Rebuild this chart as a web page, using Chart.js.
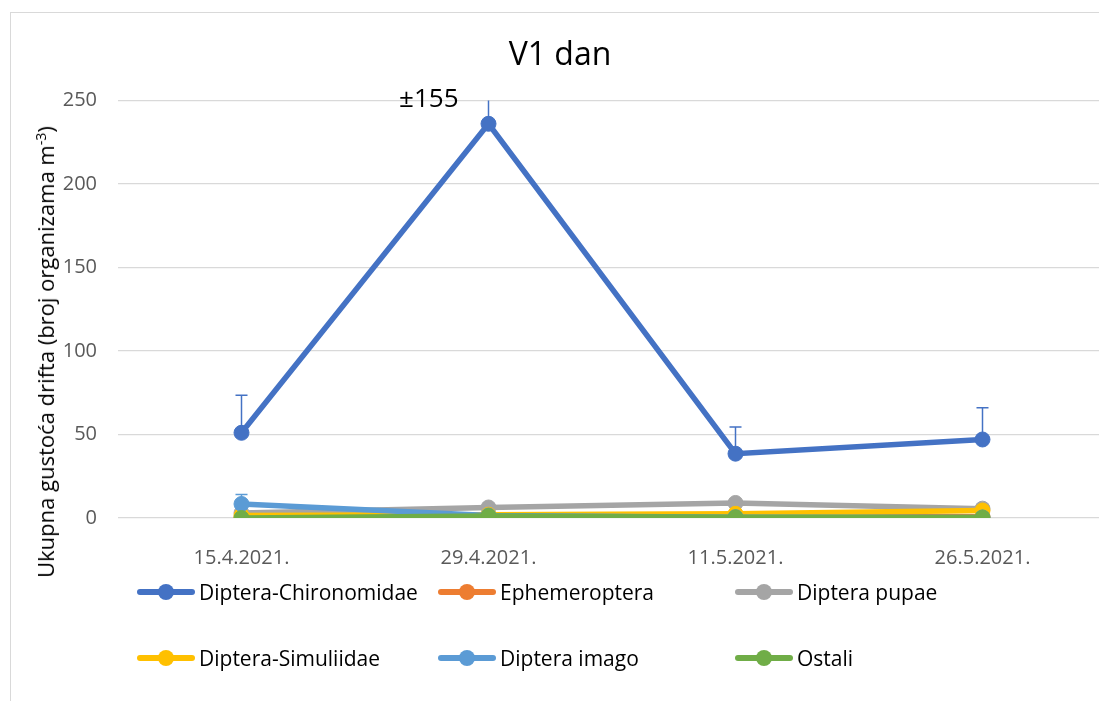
<!DOCTYPE html>
<html>
<head>
<meta charset="utf-8">
<script src="https://cdn.jsdelivr.net/npm/chart.js@4.4.1/dist/chart.umd.min.js"></script>
<style>
  body { margin: 0; overflow: hidden; background: #fff; font-family: 'Open Sans', sans-serif; }
  #frame { position: absolute; left: 10px; top: 12px; width: 1200px; height: 800px; border: 1px solid #d9d9d9; }
  #wrap { position: absolute; left: 0; top: 0; width: 1120px; height: 701px; }
  #ytitle { position: absolute; left: 45px; top: 352px; transform: translate(-50%, -50%) rotate(-90deg);
            white-space: nowrap; font-size: 22px; color: #000; }
  #ytitle sup { font-size: 14px; }
  .lg { position: absolute; height: 24px; transform: translateY(-50%); white-space: nowrap; font-size: 21px; color: #000; }
  .lg .ln { position: absolute; left: 0; top: 9px; width: 58px; height: 6px; border-radius: 3px; }
  .lg .dot { position: absolute; left: 21px; top: 4px; width: 16px; height: 16px; border-radius: 50%; }
  .lg .tx { position: absolute; left: 62px; top: -2px; line-height: 28px; }
</style>
</head>
<body>
<div id="frame"></div>
<div id="wrap"><canvas id="c"></canvas></div>
<div id="ytitle">Ukupna gustoća drifta (broj organizama m<sup>-3</sup>)</div>
<div id="legend"></div>
<script>
// data
var dates = ['15.4.2021.', '29.4.2021.', '11.5.2021.', '26.5.2021.'];
var chironomidae = [51, 236, 38.5, 47];
var chironomidaeErr = [22.5, 155, 16, 19];
var ephemeroptera = [0.3, 1.2, 1.5, 0.8];
var pupae = [3, 6.3, 9, 5.6];
var simuliidae = [1.5, 2, 2.5, 4.5];
var imago = [8.4, 1.5, 0.5, 0.3];
var imagoErr = [5.6, 0, 0, 0];
var ostali = [0, 1.2, 0.4, 0.3];
var yMax = 250;
var yStep = 50;

function series(label, data, color, order, err) {
  return {
    label: label,
    data: data,
    err: err,
    borderColor: color,
    backgroundColor: color,
    pointBackgroundColor: color,
    pointBorderColor: color,
    borderWidth: 5.5,
    pointRadius: 7.5,
    pointBorderWidth: 1,
    tension: 0,
    order: order
  };
}

// excel style plus-only error bars, clipped to the plot
var errorBars = {
  id: 'errorBars',
  beforeDatasetsDraw: function(chart) {
    var ctx = chart.ctx, area = chart.chartArea;
    var x = chart.scales.x, y = chart.scales.y;
    chart.data.datasets.forEach(function(ds) {
      if (!ds.err) return;
      ctx.save();
      ctx.beginPath();
      ctx.rect(area.left, area.top, area.right - area.left, area.bottom - area.top);
      ctx.clip();
      ctx.strokeStyle = ds.borderColor;
      ctx.lineWidth = 1.5;
      ds.data.forEach(function(v, i) {
        var e = ds.err[i];
        if (!e) return;
        var px = x.getPixelForValue(i);
        var y0 = y.getPixelForValue(v);
        var y1 = y.getPixelForValue(v + e);
        ctx.beginPath();
        ctx.moveTo(px, y0);
        ctx.lineTo(px, y1);
        ctx.moveTo(px - 6, y1);
        ctx.lineTo(px + 6, y1);
        ctx.stroke();
      });
      ctx.restore();
      // label for the bar that runs off the top
      ds.data.forEach(function(v, i) {
        var e = ds.err[i];
        if (!e || v + e <= yMax) return;
        ctx.save();
        ctx.font = '26px "Open Sans", sans-serif';
        ctx.fillStyle = '#000';
        ctx.textAlign = 'right';
        ctx.textBaseline = 'middle';
        ctx.fillText('\u00b1' + e, x.getPixelForValue(i) - 30, y.getPixelForValue(yMax) - 1);
        ctx.restore();
      });
    });
  }
};

Chart.defaults.font.family = "'Open Sans', sans-serif";

var chart = new Chart(document.getElementById('c'), {
  type: 'line',
  data: {
    labels: dates,
    datasets: [
      series('Diptera-Chironomidae', chironomidae, '#4472C4', 6, chironomidaeErr),
      series('Ephemeroptera', ephemeroptera, '#ED7D31', 5),
      series('Diptera pupae', pupae, '#A5A5A5', 4),
      series('Diptera-Simuliidae', simuliidae, '#FFC000', 3),
      series('Diptera imago', imago, '#5B9BD5', 2, imagoErr),
      series('Ostali', ostali, '#70AD47', 1)
    ]
  },
  options: {
    responsive: true,
    maintainAspectRatio: false,
    animation: false,
    layout: { padding: { left: 14, right: 14, top: 0, bottom: 123 } },
    plugins: {
      legend: { display: false },
      tooltip: { enabled: false },
      title: {
        display: true,
        text: 'V1 dan',
        color: '#000',
        font: { size: 32, weight: 'normal' },
        padding: { top: 37, bottom: 25 }
      }
    },
    scales: {
      x: {
        offset: true,
        grid: { display: false },
        border: { display: false },
        ticks: { color: '#595959', font: { size: 20 }, padding: 20, maxRotation: 0 },
        afterFit: function(s) { s.height = 60; }
      },
      y: {
        min: 0,
        max: yMax,
        ticks: { stepSize: yStep, color: '#595959', font: { size: 20 }, padding: 21 },
        grid: { color: '#d9d9d9', lineWidth: 1.3, drawTicks: false },
        border: { display: false },
        afterFit: function(s) { s.width = 104; }
      }
    }
  },
  plugins: [errorBars]
});

// legend in three columns, two rows, like the excel one
var cols = [137, 438, 735];
var rows = [592, 658];
var legend = document.getElementById('legend');
chart.data.datasets.forEach(function(ds, i) {
  var item = document.createElement('div');
  item.className = 'lg';
  item.style.left = cols[i % 3] + 'px';
  item.style.top = rows[Math.floor(i / 3)] + 'px';
  item.innerHTML = '<span class="ln" style="background:' + ds.borderColor + '"></span>' +
    '<span class="dot" style="background:' + ds.borderColor + '"></span>' +
    '<span class="tx">' + ds.label + '</span>';
  legend.appendChild(item);
});
</script>
</body>
</html>
